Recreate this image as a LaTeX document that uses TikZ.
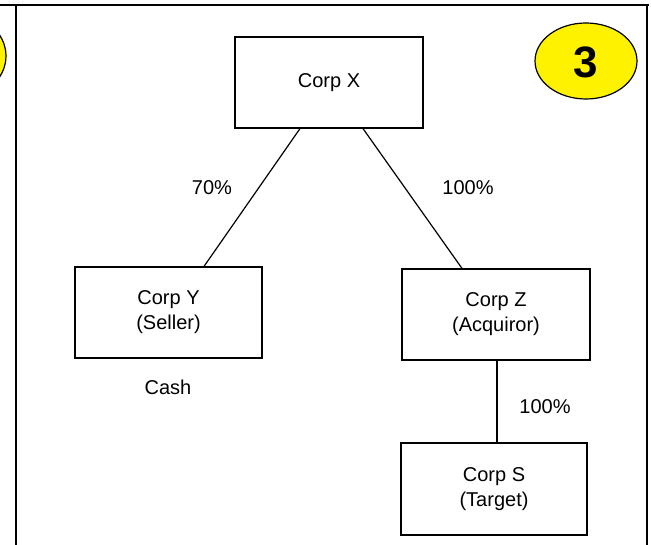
\documentclass[tikz,border=0pt]{standalone}
\usepackage{fontspec}
\setmainfont{Liberation Sans}
\usetikzlibrary{calc}
\begin{document}
\begin{tikzpicture}[x=1pt,y=-1pt,
  corpbox/.style={draw=black,line width=1.2pt,minimum width=187pt,minimum height=91pt,inner sep=0pt,align=center,font=\fontsize{20}{25}\selectfont},
  lbl/.style={font=\fontsize{20}{25}\selectfont,inner sep=0pt},
  frameline/.style={line width=2.6pt},
  link/.style={line width=1.2pt},
  badge/.style={draw=black,line width=1.2pt,fill=yellow}]
\useasboundingbox (0,0) rectangle (651,545);
% frame
\draw[frameline] (0,5) -- (649,5);
\draw[frameline] (16,5) -- (16,546);
\draw[frameline] (647,5) -- (647,546);
% badges
\draw[badge] (-42,56) ellipse [x radius=48, y radius=42];
\draw[badge] (586,61) ellipse [x radius=51, y radius=38];
\node[font=\fontsize{44}{44}\selectfont\bfseries] (three) at (586,62) {3};
% boxes
\node[corpbox,minimum width=188pt] (X) at (329,82.5) {Corp X};
\node[corpbox] (Y) at (168.5,312.5) {Corp Y\\(Seller)};
\node[corpbox,minimum width=188pt] (Z) at (496,314.5) {Corp Z\\(Acquiror)};
\node[corpbox,minimum width=186pt,minimum height=92pt] (S) at (494,489) {Corp S\\(Target)};
% connectors
\draw[link] ($(X.south)+(-29,0)$) -- ($(Y.north)+(35.5,0)$);
\draw[link] ($(X.south)+(34,0)$) -- ($(Z.north)+(-34,0)$);
\draw[link] (Z.south -| 497,0) -- (S.north -| 497,0);
% labels
\node[lbl] (p70) at (212,188) {70\%};
\node[lbl] (p100a) at (468,188) {100\%};
\node[lbl] (p100b) at (545,407) {100\%};
\node[lbl] (cash) at (168,387) {Cash};
\end{tikzpicture}
\end{document}
